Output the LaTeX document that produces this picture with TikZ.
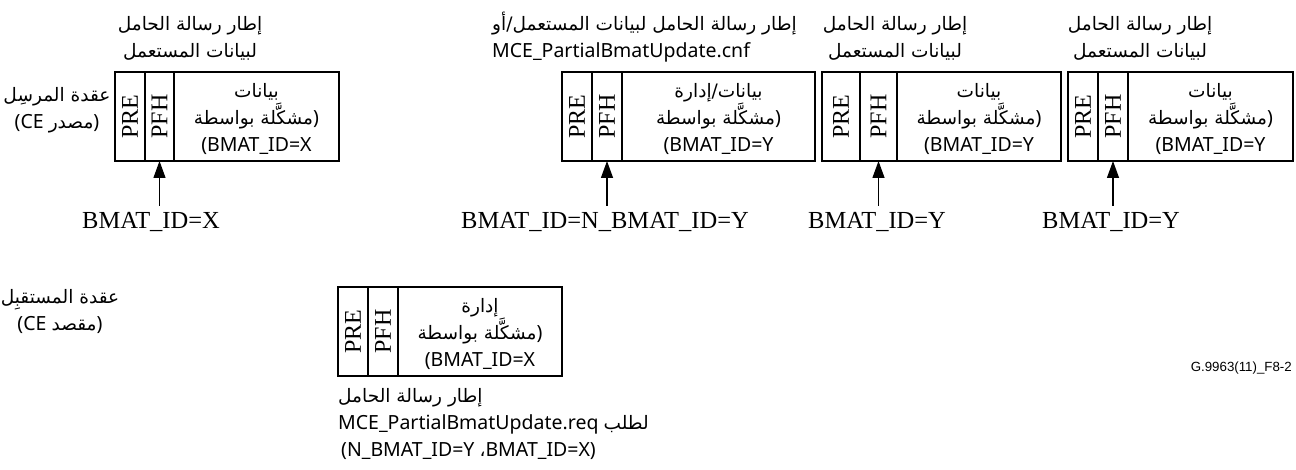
\documentclass[tikz,border=0pt]{standalone}
\usepackage{fontspec}
\usepackage{graphicx}
\usetikzlibrary{arrows.meta}
\TeXXeTstate=1
\setmainfont{Liberation Serif}
\newfontfamily\arabicfont[Script=Arabic,Scale=0.95]{DejaVu Sans}
\newfontfamily\latinsans{Noto Sans}
\newfontfamily\refsans{Liberation Sans}
% one right-to-left line of Arabic
\newcommand\RL[1]{\beginR{\arabicfont #1}\endR}

\tikzset{
  cell/.style={draw, line width=1.3pt, minimum height=89pt, inner sep=0pt,
    outer sep=0pt, anchor=north west},
  fieldtxt/.style={font=\fontsize{24}{24}\selectfont},
  txt/.style={font=\latinsans\fontsize{19.5}{27}\selectfont, align=center, inner sep=0pt},
  idlabel/.style={font=\fontsize{24.5}{24}\selectfont, anchor=base, inner sep=3pt, outer sep=4pt},
  arr/.style={line width=1.3pt, -{Triangle[length=17pt,width=12pt]}},
}

% PRE | PFH | payload frame: name, x, y, pre width, pfh width, payload width
\newcommand\msgframe[6]{%
  \node[cell, minimum width=#4pt] (#1pre) at (#2,#3) {};
  \node[cell, minimum width=#5pt] (#1pfh) at (#1pre.north east) {};
  \node[cell, minimum width=#6pt] (#1dat) at (#1pfh.north east) {};
  \node[fieldtxt] (#1pret) at (#1pre.center) {\rotatebox{90}{PRE}};
  \node[fieldtxt] (#1pfht) at (#1pfh.center) {\rotatebox{90}{PFH}};
}

\begin{document}
\begin{tikzpicture}[x=1pt,y=-1pt]
\useasboundingbox (0,0) rectangle (1296,470);

% node roles
\node[txt] (snd) at (57,110) {\RL{عقدة المرسِل}\\\beginR)\RL{مصدر} \beginL CE\endL(\endR};
\node[txt] (rcv) at (60,312) {\RL{عقدة المستقبِل}\\\beginR)\RL{مقصد} \beginL CE\endL(\endR};

% frames on the sender side
\msgframe{a}{115}{72}{30}{29}{165}
\msgframe{b}{562}{72}{30}{30}{193}
\msgframe{c}{822}{72}{38}{37}{164}
\msgframe{d}{1068}{72}{30}{30}{165}
% frame on the receiver side
\msgframe{e}{338}{287}{30}{30}{164}

% payload descriptions
\node[txt] (adesc) at ([yshift=-3pt]adat.center) {\RL{بيانات}\\\beginR)\RL{مشكَّلة بواسطة}\endR\\(BMAT\_ID=X};
\node[txt] (bdesc) at ([yshift=-3pt]bdat.center) {\RL{بيانات/إدارة}\\\beginR)\RL{مشكَّلة بواسطة}\endR\\(BMAT\_ID=Y};
\node[txt] (cdesc) at ([yshift=-3pt]cdat.center) {\RL{بيانات}\\\beginR)\RL{مشكَّلة بواسطة}\endR\\(BMAT\_ID=Y};
\node[txt] (ddesc) at ([yshift=-3pt]ddat.center) {\RL{بيانات}\\\beginR)\RL{مشكَّلة بواسطة}\endR\\(BMAT\_ID=Y};
\node[txt] (edesc) at ([yshift=-3pt]edat.center) {\RL{إدارة}\\\beginR)\RL{مشكَّلة بواسطة}\endR\\(BMAT\_ID=X};

% frame titles
\node[txt] (atitle) at (190,38) {\RL{إطار رسالة الحامل}\\\RL{لبيانات المستعمل}};
\node[txt, align=left, anchor=west] (btitle) at (492,37) {\RL{إطار رسالة الحامل لبيانات المستعمل/أو}\\MCE\_PartialBmatUpdate.cnf};
\node[txt] (ctitle) at (895,38) {\RL{إطار رسالة الحامل}\\\RL{لبيانات المستعمل}};
\node[txt] (dtitle) at (1140,38) {\RL{إطار رسالة الحامل}\\\RL{لبيانات المستعمل}};
\node[txt, align=left, anchor=north west] (etitle) at (338,388) {\RL{إطار رسالة الحامل}\\\beginR\RL{لطلب} \beginL MCE\_PartialBmatUpdate.req\endL\endR\\\hspace*{3pt}\beginR)\beginL BMAT\_ID=X\endL\RL{،} \beginL N\_BMAT\_ID=Y\endL(\endR};

% BMAT identifiers pointing at the frame headers
\node[idlabel] (aid) at (151,229) {BMAT\_ID=X};
\node[idlabel] (bid) at (605,229) {BMAT\_ID=N\_BMAT\_ID=Y};
\node[idlabel] (cid) at (877,229) {BMAT\_ID=Y};
\node[idlabel] (did) at (1111,229) {BMAT\_ID=Y};
\draw[arr] (apfh.south |- aid.north) -- (apfh.south);
\draw[arr] (bpfh.south |- bid.north) -- (bpfh.south);
\draw[arr] (cpfh.south |- cid.north) -- (cpfh.south);
\draw[arr] (dpfh.south |- did.north) -- (dpfh.south);

\node[font=\refsans\fontsize{13.3}{16}\selectfont, anchor=east, inner sep=0pt] (figid) at (1292,368) {G.9963(11)\_F8-2};
\end{tikzpicture}
\end{document}
